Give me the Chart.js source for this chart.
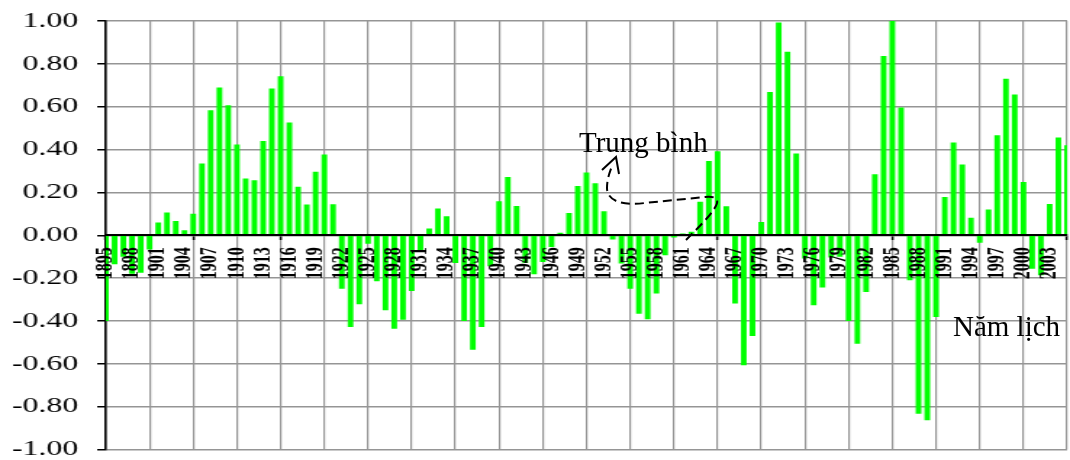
<!DOCTYPE html>
<html>
<head>
<meta charset="utf-8">
<script src="https://cdn.jsdelivr.net/npm/chart.js@4.4.1/dist/chart.umd.min.js"></script>
<style>
  html, body { margin: 0; padding: 0; background: #ffffff; }
  body { width: 1070px; height: 460px; overflow: hidden; position: relative; }
  #wrap { position: absolute; left: 0; top: 0; width: 738px; height: 460px;
          transform: scaleX(1.449864); transform-origin: 0 0; }
  #c { display: block; width: 738px; height: 460px; }
  .note { position: absolute; font-family: 'Liberation Serif', 'Times New Roman', serif;
          font-size: 29px; line-height: 29px; color: #000; white-space: nowrap; }
  #arrow { position: absolute; left: 0; top: 0; }
</style>
</head>
<body>
<div id="wrap"><canvas id="c" width="738" height="460"></canvas></div>
<svg id="arrow" width="1070" height="460" xmlns="http://www.w3.org/2000/svg">
  <path d="M 686 240 C 698 228 709 217 714 209 C 721 199 716 196 705 197 L 645 203 C 620 206 607 200 607 188 C 607 180 609 174 612 166"
        fill="none" stroke="#000" stroke-width="2" stroke-dasharray="9 5"/>
  <path d="M 602 170 L 616 157 L 619 174" fill="none" stroke="#000" stroke-width="2"/>
</svg>
<div class="note" id="n1" style="left:579px; top:128px;">Trung bình</div>
<div class="note" id="n2" style="left:953px; top:312px;">Năm lịch</div>
<script>
// ---- data ----
const years = [1895,1896,1897,1898,1899,1900,1901,1902,1903,1904,
  1905,1906,1907,1908,1909,1910,1911,1912,1913,1914,
  1915,1916,1917,1918,1919,1920,1921,1922,1923,1924,
  1925,1926,1927,1928,1929,1930,1931,1932,1933,1934,
  1935,1936,1937,1938,1939,1940,1941,1942,1943,1944,
  1945,1946,1947,1948,1949,1950,1951,1952,1953,1954,
  1955,1956,1957,1958,1959,1960,1961,1962,1963,1964,
  1965,1966,1967,1968,1969,1970,1971,1972,1973,1974,
  1975,1976,1977,1978,1979,1980,1981,1982,1983,1984,
  1985,1986,1987,1988,1989,1990,1991,1992,1993,1994,
  1995,1996,1997,1998,1999,2000,2001,2002,2003,2004,
  2005];
const anomaly = [-0.40,-0.135,-0.10,-0.18,-0.175,-0.067,0.059,0.106,0.067,0.023,
  0.10,0.335,0.584,0.69,0.607,0.423,0.265,0.257,0.44,0.685,
  0.742,0.526,0.226,0.143,0.296,0.377,0.145,-0.25,-0.428,-0.322,
  -0.04,-0.215,-0.35,-0.436,-0.394,-0.26,-0.07,0.031,0.125,0.089,
  -0.13,-0.40,-0.534,-0.428,-0.145,0.159,0.272,0.137,-0.13,-0.182,
  -0.125,-0.055,0.012,0.104,0.23,0.293,0.243,0.112,-0.02,-0.132,
  -0.25,-0.366,-0.392,-0.272,-0.093,-0.01,0.008,0.016,0.156,0.346,
  0.392,0.135,-0.319,-0.607,-0.47,0.062,0.669,0.993,0.856,0.381,
  -0.109,-0.327,-0.244,-0.104,-0.10,-0.40,-0.506,-0.265,0.285,0.837,
  1.00,0.596,-0.21,-0.833,-0.864,-0.381,0.179,0.433,0.33,0.082,
  -0.035,0.12,0.467,0.731,0.657,0.249,-0.156,-0.187,0.146,0.456,
  0.42];
const xTickYears = [1895,1898,1901,1904,1907,1910,1913,1916,1919,1922,1925,1928,
  1931,1934,1937,1940,1943,1946,1949,1952,1955,1958,1961,1964,1967,1970,1973,
  1976,1979,1982,1985,1988,1991,1994,1997,2000,2003];
const yTicks = [1.00,0.80,0.60,0.40,0.20,0.00,-0.20,-0.40,-0.60,-0.80,-1.00];

// ---- styles ----
const GRID = '#959595';
const CLEAR = 'rgba(0,0,0,0)';
const SERIF = "'Liberation Serif', 'Times New Roman', serif";

new Chart(document.getElementById('c'), {
  type: 'bar',
  data: {
    labels: years,
    datasets: [{
      data: anomaly,
      backgroundColor: '#00ff00',
      borderWidth: 0,
      barPercentage: 0.72,
      categoryPercentage: 0.9,
      clip: 0
    }]
  },
  options: {
    responsive: false,
    animation: false,
    devicePixelRatio: 1,
    layout: { padding: { left: 0, right: 2, top: 21, bottom: 10.5 } },
    plugins: { legend: { display: false }, tooltip: { enabled: false }, title: { display: false } },
    scales: {
      x: {
        type: 'category',
        offset: false,
        position: { y: 0 },
        afterFit: s => { s.paddingLeft = 0; s.paddingRight = 0; },
        ticks: {
          autoSkip: false, minRotation: 90, maxRotation: 90, padding: 8, z: 1,
          color: '#000',
          font: { family: SERIF, size: 16, weight: 'bold' },
          callback: (v, i) => xTickYears.includes(years[i]) ? String(years[i]) : ''
        },
        grid: {
          offset: false,
          color: ctx => (ctx.index % 5 === 0 ? GRID : CLEAR),
          lineWidth: 1.2,
          tickLength: 4,
          tickWidth: 1.5,
          tickColor: ctx => (ctx.index % 10 === 0 ? '#000' : CLEAR)
        },
        border: { color: '#000', width: 2, z: 1 }
      },
      y: {
        min: -1, max: 1,
        afterBuildTicks: s => { s.ticks = yTicks.map(v => ({ value: v })); },
        afterFit: s => { s.width = 73; s.paddingTop = 0; s.paddingBottom = 0; },
        ticks: {
          color: '#000', padding: 13,
          font: { family: SERIF, size: 22 },
          callback: v => Number(v).toFixed(2)
        },
        grid: { color: GRID, lineWidth: 1.5, tickColor: '#000', tickLength: 6, tickWidth: 1.5 },
        border: { color: '#000', width: 1.6 }
      }
    }
  }
});
</script>
</body>
</html>
